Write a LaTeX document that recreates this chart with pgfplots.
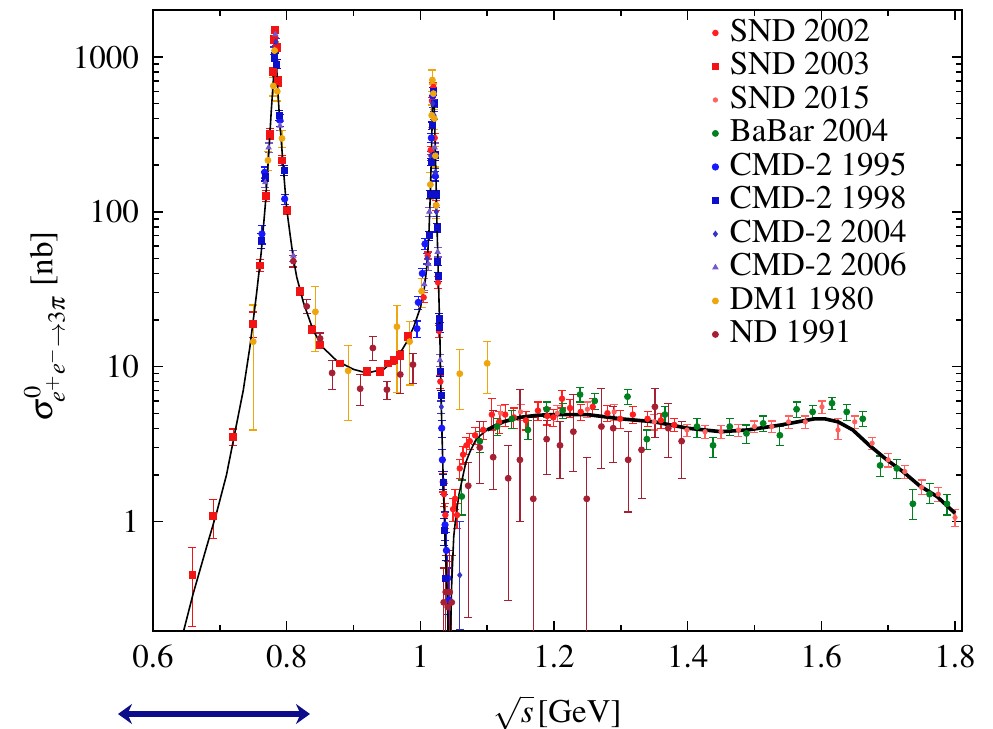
\documentclass[border=0pt]{standalone}
\usepackage[T1]{fontenc}
\usepackage{mathptmx}
\usepackage{pgfplots}
\pgfplotsset{compat=1.18}
\usepackage{pgfplotstable}
\usetikzlibrary{arrows.meta}

\definecolor{sndA}{rgb}{1,0.12,0.12}
\definecolor{sndB}{rgb}{0.95,0.08,0.08}
\definecolor{sndC}{rgb}{1,0.38,0.38}
\definecolor{babar}{rgb}{0.0,0.5,0.12}
\definecolor{cmdA}{rgb}{0.1,0.1,1}
\definecolor{cmdB}{rgb}{0.05,0.05,0.8}
\definecolor{cmdC}{rgb}{0.2,0.2,0.8}
\definecolor{cmdD}{rgb}{0.45,0.35,0.8}
\definecolor{dmone}{rgb}{0.93,0.65,0.05}
\definecolor{nd}{rgb}{0.65,0.12,0.2}
\definecolor{arrowblue}{rgb}{0.05,0.05,0.55}

\pgfplotstableread{
x y lo hi
0.659 0.45 0.21 0.68
0.690 1.08 0.78 1.38
0.720 3.5 3.1 3.95
0.750 18.8 15.5 22.5
0.760 45 41 49
0.769 127 116 138
0.775 320 295 345
0.779 800 740 860
0.781 1300 1220 1380
0.783 1500 1420 1580
0.785 1150 1080 1220
0.787 700 650 750
0.793 215 200 230
0.800 102 96 108
0.820 30.7 29 32.5
0.838 17.4 16.5 18.3
0.850 13.9 13.2 14.6
0.880 10.5 10.0 11.0
0.920 9.3 8.8 9.8
0.940 9.3 8.8 9.8
0.952 10.5 10.0 11.0
0.960 11.0 10.4 11.6
0.970 11.9 11.2 12.6
0.981 15.7 14.8 16.6
}\sndthree

\pgfplotstableread{
x y lo hi
1.005 28 26 30
1.011 52 49 55
1.0155 250 235 265
1.0175 520 490 550
1.0195 640 600 680
1.0215 300 280 320
1.0235 110 102 118
1.0265 35 32 38
1.028 17 15.5 18.5
1.030 8 7.2 8.8
1.0335 1.8 1.55 2.05
1.0355 1.5 1.25 1.75
1.0375 1.1 0.9 1.3
1.049 1.2 1.0 1.4
1.052 1.4 1.2 1.6
1.055 1.1 0.9 1.3
1.059 2.2 1.9 2.5
1.064 2.7 2.35 3.05
1.069 3.1 2.7 3.5
1.074 3.3 2.9 3.7
1.082 3.6 3.15 4.05
1.094 3.9 3.4 4.4
1.107 4.9 3.9 6.2
1.118 4.4 3.7 5.1
1.127 4.9 4.1 5.7
1.140 4.7 4.0 5.4
1.158 4.5 3.9 5.1
1.176 5.2 4.5 5.9
1.190 4.8 4.2 5.4
1.199 4.7 4.1 5.3
1.212 6.2 5.4 7.0
1.224 5.4 4.7 6.1
1.240 5.1 4.5 5.7
1.258 5.5 4.8 6.2
1.280 5.0 4.4 5.6
1.299 4.6 4.0 5.2
1.318 4.9 4.3 5.5
1.340 4.6 4.1 5.1
1.360 4.5 4.0 5.0
1.380 4.2 3.8 4.6
}\sndtwo

\pgfplotstableread{
x y lo hi
1.120 5.0 4.4 5.6
1.150 5.1 4.5 5.7
1.205 5.0 4.4 5.6
1.250 5.3 4.7 5.9
1.290 5.1 4.5 5.7
1.350 4.4 3.9 4.9
1.399 3.9 3.55 4.25
1.426 3.8 3.45 4.15
1.450 3.8 3.45 4.15
1.476 3.9 3.55 4.25
1.500 4.1 3.75 4.45
1.526 4.1 3.75 4.45
1.551 4.4 4.0 4.8
1.576 4.4 4.0 4.8
1.601 5.5 5.0 6.0
1.625 3.9 3.4 4.6
1.650 4.4 4.0 4.8
1.676 3.2 2.9 3.5
1.700 2.5 2.25 2.75
1.725 2.1 1.9 2.3
1.750 1.66 1.5 1.85
1.775 1.5 1.35 1.65
1.800 1.06 0.93 1.2
}\sndfifteen

\pgfplotstableread{
x y lo hi
1.062 1.45 1.1 1.85
1.089 3.3 2.8 3.8
1.115 4.1 3.6 4.6
1.137 4.6 4.0 5.2
1.161 3.9 3.4 4.5
1.189 5.3 4.7 5.9
1.213 5.2 4.6 5.8
1.239 6.6 5.9 7.3
1.261 6.0 5.3 6.7
1.310 6.4 5.7 7.1
1.339 3.4 2.9 3.9
1.366 4.9 4.3 5.5
1.414 4.1 3.5 4.6
1.438 3.1 2.6 3.5
1.463 4.1 3.6 4.6
1.488 3.7 3.2 4.2
1.513 4.3 3.8 4.8
1.538 3.6 3.1 4.1
1.563 5.3 4.7 5.9
1.587 5.1 4.6 5.6
1.616 5.8 5.3 6.3
1.638 5.1 4.5 5.7
1.662 4.6 4.1 5.1
1.688 2.3 1.95 2.65
1.713 2.2 1.9 2.5
1.737 1.3 1.03 1.6
1.762 1.5 1.3 1.75
1.788 1.3 1.1 1.5
}\babar

\pgfplotstableread{
x y lo hi
0.763 72 62 82
0.767 180 165 195
0.790 390 355 425
0.797 121 112 130
0.995 17.6 15.5 19.7
0.997 26 23.5 28.5
1.003 40 37 43
1.007 62 57 67
1.0165 300 280 320
1.0185 560 520 600
1.0225 170 158 182
1.032 4.0 3.5 4.5
1.033 2.5 2.1 2.9
1.035 1.8 1.5 2.1
1.037 0.95 0.75 1.15
1.039 0.65 0.45 0.85
1.041 0.43 0.25 0.6
1.043 0.31 0.15 0.5
}\cmdninetyfive

\pgfplotstableread{
x y lo hi
0.762 65 58 72
0.768 170 158 182
0.782 1000 940 1060
0.785 900 840 960
0.789 420 390 450
0.796 185 172 198
1.013 70 65 75
1.0145 130 122 138
1.016 210 198 222
1.0175 360 340 380
1.019 600 565 635
1.0205 500 470 530
1.022 230 215 245
1.0235 130 122 138
1.025 79 74 84
1.026 48 45 51
1.027 38 35.5 40.5
1.028 20.5 19 22
1.029 18 16.7 19.3
1.030 9.3 8.6 10
1.031 6.5 6 7
1.034 1.8 1.6 2.0
1.036 0.88 0.7 1.05
1.038 0.43 0.3 0.56
}\cmdninetyeight

\pgfplotstableread{
x y lo hi
0.781 1100 1040 1160
0.784 1250 1180 1320
1.010 50 46 54
1.0155 230 215 245
1.0185 500 470 530
1.0205 420 395 445
1.0225 180 168 192
1.024 100 93 107
1.0315 5.5 5.0 6.0
1.059 0.45 0.2 1.0
}\cmdtwothousandfour

\pgfplotstableread{
x y lo hi
0.768 155 143 167
0.773 260 242 278
0.783 1400 1330 1470
0.790 360 335 385
0.810 52 48 56
1.006 34 31 37
1.012 46 42 50
1.0135 100 93 107
1.0215 260 242 278
1.026 55 51 59
1.0295 11 10 12
}\cmdtwothousandsix

\pgfplotstableread{
x y lo hi
0.750 14.5 3.9 25
0.772 215 185 245
0.780 650 560 740
0.782 1100 950 1250
0.786 600 520 680
0.793 298 260 336
0.843 22.6 12.5 32.8
0.892 9.4 4.5 13.7
0.965 18.1 6.8 24.8
0.984 14.5 7.6 19.5
1.002 30.7 24 37
1.015 150 120 180
1.017 420 350 490
1.018 710 600 824
1.0195 580 490 670
1.021 400 340 460
1.0225 230 195 265
1.024 110 90 130
1.059 9.0 5.3 12.9
1.100 10.5 6.7 14.5
}\dmone

\pgfplotstableread{
x y lo hi
0.810 48 44 52
0.830 24.5 22 27
0.850 15.2 14 16.5
0.868 9.1 7.1 11
0.910 7.2 5.6 8.9
0.929 13.2 11 15.7
0.950 7.1 6.1 8.0
0.970 8.9 6.7 12.2
0.989 10.3 7.8 12.2
1.035 0.3 0.1 0.5
1.038 0.35 0.1 0.6
1.041 0.28 0.1 0.55
1.044 0.35 0.1 0.65
1.047 0.3 0.1 0.6
1.0717 1.7 0.24 2.4
1.089 3.0 1.75 4.4
1.109 2.6 1.6 5.2
1.1315 1.9 0.31 3.1
1.149 2.5 1.0 7.1
1.169 1.4 0.05 4.7
1.189 3.4 2.0 4.5
1.209 3.1 1.9 4.4
1.229 3.8 2.1 6.6
1.249 1.4 0.05 2.6
1.271 4.1 2.2 7.2
1.2886 4.0 2.4 5.5
1.311 2.5 1.15 3.8
1.331 2.9 1.4 4.4
1.351 5.5 3.5 7.2
1.371 4.0 2.6 5.8
1.391 3.3 1.9 4.4
}\ndata

\pgfplotstableread{
x y
0.645 0.19
0.660 0.34
0.680 0.68
0.695 1.13
0.710 2.0
0.720 3.3
0.735 7.0
0.745 13.4
0.755 29.7
0.762 55
0.768 110
0.773 230
0.777 450
0.780 700
0.7825 1300
0.784 1100
0.786 700
0.789 420
0.793 250
0.797 150
0.800 105
0.805 72
0.810 50
0.815 38
0.825 26
0.840 17
0.855 13.2
0.875 10.9
0.900 9.6
0.920 9.1
0.945 9.6
0.965 11.3
0.980 14.5
0.990 18
1.000 24
1.006 32
1.010 45
1.013 75
1.015 130
1.017 280
1.0185 550
1.0195 650
1.021 450
1.023 200
1.025 80
1.027 38
1.029 18
1.031 6.5
1.033 3.0
1.035 1.4
1.037 0.8
1.039 0.45
1.041 0.25
1.0425 0.12
1.044 0.12
1.047 0.4
1.050 0.8
1.054 1.15
1.058 1.5
1.063 1.9
1.068 2.4
1.074 2.8
1.082 3.3
1.090 3.6
1.100 3.9
}\fitleft

\pgfplotstableread{
x y
1.100 3.9
1.124 4.4
1.149 4.7
1.175 4.85
1.200 4.9
1.250 4.9
1.300 4.6
1.350 4.4
1.400 4.0
1.450 3.8
1.490 3.9
1.540 4.2
1.565 4.4
1.590 4.6
1.605 4.6
1.625 4.4
1.647 3.9
1.672 3.1
1.698 2.5
1.722 2.1
1.747 1.7
1.773 1.45
1.800 1.13
}\fitright

\begin{document}
\begin{tikzpicture}
\begin{axis}[
  at={(0pt,0pt)}, anchor=south west,
  scale only axis,
  width=404.5pt, height=310.5pt,
  xmin=0.6, xmax=1.8105,
  ymode=log, ymin=0.196, ymax=2012,
  xtick={0.6,0.8,1,1.2,1.4,1.6,1.8},
  minor x tick num=1,
  ytick={1,10,100,1000},
  yticklabels={1,10,100,1000},
  /pgf/number format/assume math mode=true,
  tick align=inside,
  major tick length=5pt, minor tick length=2.8pt,
  every tick/.style={black, line width=0.7pt},
  axis line style={line width=0.8pt},
  tick label style={font=\fontsize{16.5}{19}\selectfont},
  xticklabel style={yshift=-3.5pt},
  yticklabel style={xshift=-3.5pt},
  xlabel={$\sqrt{s}\,$[GeV]},
  xlabel style={at={(axis description cs:0.5,-0.132)}, anchor=center, font=\fontsize{16.5}{19}\selectfont},
  ylabel={$\sigma^{0}_{e^+e^-\to 3\pi}$ [nb]},
  ylabel style={at={(axis description cs:-0.134,0.49)}, anchor=center, rotate=0, font=\fontsize{16.5}{19}\selectfont},
  legend style={at={(axis description cs:0.691,0.99)}, anchor=north west,
    draw=none, fill=none, inner sep=0pt, outer sep=0pt, row sep=0pt,
    font=\fontsize{16.5}{16.5}\selectfont,
    nodes={inner sep=0pt, text height=12.6pt, text depth=4.15pt},
    /tikz/every odd column/.append style={column sep=5.5pt}},
  legend cell align=left,
  error bars/y dir=both,
  error bars/y explicit,
  error bars/error bar style={line width=0.6pt, solid},
  error bars/error mark options={line width=0.6pt, mark size=2pt, rotate=90},
]
\addplot[only marks, color=sndA, mark=*, mark size=1.4pt] table[x=x, y=y, y error plus expr=\thisrow{hi}-\thisrow{y}, y error minus expr=\thisrow{y}-\thisrow{lo}] {\sndtwo};
\addlegendentry{SND 2002}
\addplot[only marks, color=sndB, mark=square*, mark size=1.7pt] table[x=x, y=y, y error plus expr=\thisrow{hi}-\thisrow{y}, y error minus expr=\thisrow{y}-\thisrow{lo}] {\sndthree};
\addlegendentry{SND 2003}
\addplot[only marks, color=sndC, mark=*, mark size=1.1pt] table[x=x, y=y, y error plus expr=\thisrow{hi}-\thisrow{y}, y error minus expr=\thisrow{y}-\thisrow{lo}] {\sndfifteen};
\addlegendentry{SND 2015}
\addplot[only marks, color=babar, mark=*, mark size=1.5pt] table[x=x, y=y, y error plus expr=\thisrow{hi}-\thisrow{y}, y error minus expr=\thisrow{y}-\thisrow{lo}] {\babar};
\addlegendentry{BaBar 2004}
\addplot[only marks, color=cmdA, mark=*, mark size=1.6pt] table[x=x, y=y, y error plus expr=\thisrow{hi}-\thisrow{y}, y error minus expr=\thisrow{y}-\thisrow{lo}] {\cmdninetyfive};
\addlegendentry{CMD-2 1995}
\addplot[only marks, color=cmdB, mark=square*, mark size=1.5pt] table[x=x, y=y, y error plus expr=\thisrow{hi}-\thisrow{y}, y error minus expr=\thisrow{y}-\thisrow{lo}] {\cmdninetyeight};
\addlegendentry{CMD-2 1998}
\addplot[only marks, color=cmdC, mark=diamond*, mark size=1.4pt] table[x=x, y=y, y error plus expr=\thisrow{hi}-\thisrow{y}, y error minus expr=\thisrow{y}-\thisrow{lo}] {\cmdtwothousandfour};
\addlegendentry{CMD-2 2004}
\addplot[only marks, color=cmdD, mark=triangle*, mark size=1.5pt] table[x=x, y=y, y error plus expr=\thisrow{hi}-\thisrow{y}, y error minus expr=\thisrow{y}-\thisrow{lo}] {\cmdtwothousandsix};
\addlegendentry{CMD-2 2006}
\addplot[only marks, color=dmone, mark=*, mark size=1.5pt] table[x=x, y=y, y error plus expr=\thisrow{hi}-\thisrow{y}, y error minus expr=\thisrow{y}-\thisrow{lo}] {\dmone};
\addlegendentry{DM1 1980}
\addplot[only marks, color=nd, mark=*, mark size=1.5pt] table[x=x, y=y, y error plus expr=\thisrow{hi}-\thisrow{y}, y error minus expr=\thisrow{y}-\thisrow{lo}] {\ndata};
\addlegendentry{ND 1991}
\addplot[black, line width=0.8pt, no marks, forget plot, error bars/y dir=none] table[x=x, y=y] {\fitleft};
\addplot[black, line width=1.8pt, no marks, forget plot, error bars/y dir=none] table[x=x, y=y] {\fitright};
\end{axis}
\draw[arrowblue, line width=3pt, {Stealth[length=7pt,width=10pt]}-{Stealth[length=7pt,width=10pt]}] (-17.5pt,-41.5pt) -- (78.5pt,-41.5pt);
\pgfresetboundingbox
\path (-76.5pt,-49pt) rectangle (420pt,315.5pt);
\end{tikzpicture}
\end{document}
